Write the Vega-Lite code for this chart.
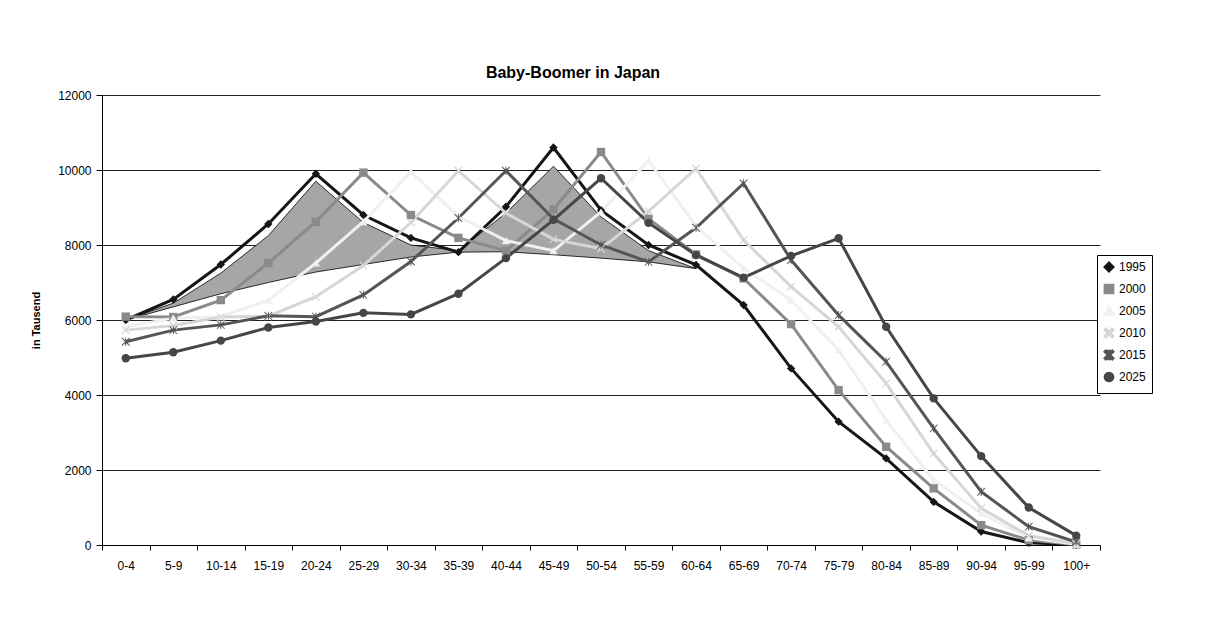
{
  "$schema": "https://vega.github.io/schema/vega-lite/v6.json",
  "width": 998,
  "height": 450,
  "autosize": {"type": "none"},
  "padding": {"left": 102, "top": 95, "right": 113, "bottom": 81},
  "background": "white",
  "title": {"text": "Baby-Boomer in Japan", "fontSize": 16, "font": "Liberation Sans", "fontWeight": "bold", "color": "#000", "offset": 8, "dx": -28},
  "config": {
    "view": {"stroke": null},
    "font": "Liberation Sans"
  },
  "datasets": {
    "pop": [
      {"age": "0-4", "year": "1995", "value": 6000}, {"age": "5-9", "year": "1995", "value": 6550}, {"age": "10-14", "year": "1995", "value": 7480}, {"age": "15-19", "year": "1995", "value": 8560}, {"age": "20-24", "year": "1995", "value": 9900}, {"age": "25-29", "year": "1995", "value": 8800}, {"age": "30-34", "year": "1995", "value": 8190}, {"age": "35-39", "year": "1995", "value": 7810}, {"age": "40-44", "year": "1995", "value": 9020}, {"age": "45-49", "year": "1995", "value": 10600}, {"age": "50-54", "year": "1995", "value": 8930}, {"age": "55-59", "year": "1995", "value": 8000}, {"age": "60-64", "year": "1995", "value": 7470}, {"age": "65-69", "year": "1995", "value": 6400}, {"age": "70-74", "year": "1995", "value": 4710}, {"age": "75-79", "year": "1995", "value": 3290}, {"age": "80-84", "year": "1995", "value": 2310}, {"age": "85-89", "year": "1995", "value": 1150}, {"age": "90-94", "year": "1995", "value": 360}, {"age": "95-99", "year": "1995", "value": 60}, {"age": "100+", "year": "1995", "value": 5},
      {"age": "0-4", "year": "2000", "value": 6090}, {"age": "5-9", "year": "2000", "value": 6080}, {"age": "10-14", "year": "2000", "value": 6530}, {"age": "15-19", "year": "2000", "value": 7520}, {"age": "20-24", "year": "2000", "value": 8620}, {"age": "25-29", "year": "2000", "value": 9930}, {"age": "30-34", "year": "2000", "value": 8800}, {"age": "35-39", "year": "2000", "value": 8190}, {"age": "40-44", "year": "2000", "value": 7850}, {"age": "45-49", "year": "2000", "value": 8950}, {"age": "50-54", "year": "2000", "value": 10480}, {"age": "55-59", "year": "2000", "value": 8700}, {"age": "60-64", "year": "2000", "value": 7750}, {"age": "65-69", "year": "2000", "value": 7110}, {"age": "70-74", "year": "2000", "value": 5890}, {"age": "75-79", "year": "2000", "value": 4130}, {"age": "80-84", "year": "2000", "value": 2620}, {"age": "85-89", "year": "2000", "value": 1510}, {"age": "90-94", "year": "2000", "value": 530}, {"age": "95-99", "year": "2000", "value": 130}, {"age": "100+", "year": "2000", "value": 15},
      {"age": "0-4", "year": "2005", "value": 5820}, {"age": "5-9", "year": "2005", "value": 6050}, {"age": "10-14", "year": "2005", "value": 6090}, {"age": "15-19", "year": "2005", "value": 6530}, {"age": "20-24", "year": "2005", "value": 7520}, {"age": "25-29", "year": "2005", "value": 8620}, {"age": "30-34", "year": "2005", "value": 9950}, {"age": "35-39", "year": "2005", "value": 8760}, {"age": "40-44", "year": "2005", "value": 8120}, {"age": "45-49", "year": "2005", "value": 7850}, {"age": "50-54", "year": "2005", "value": 8880}, {"age": "55-59", "year": "2005", "value": 10250}, {"age": "60-64", "year": "2005", "value": 8500}, {"age": "65-69", "year": "2005", "value": 7380}, {"age": "70-74", "year": "2005", "value": 6530}, {"age": "75-79", "year": "2005", "value": 5200}, {"age": "80-84", "year": "2005", "value": 3330}, {"age": "85-89", "year": "2005", "value": 1730}, {"age": "90-94", "year": "2005", "value": 850}, {"age": "95-99", "year": "2005", "value": 190}, {"age": "100+", "year": "2005", "value": 20},
      {"age": "0-4", "year": "2010", "value": 5730}, {"age": "5-9", "year": "2010", "value": 5850}, {"age": "10-14", "year": "2010", "value": 6080}, {"age": "15-19", "year": "2010", "value": 6100}, {"age": "20-24", "year": "2010", "value": 6620}, {"age": "25-29", "year": "2010", "value": 7450}, {"age": "30-34", "year": "2010", "value": 8600}, {"age": "35-39", "year": "2010", "value": 9980}, {"age": "40-44", "year": "2010", "value": 8850}, {"age": "45-49", "year": "2010", "value": 8150}, {"age": "50-54", "year": "2010", "value": 7900}, {"age": "55-59", "year": "2010", "value": 8900}, {"age": "60-64", "year": "2010", "value": 10040}, {"age": "65-69", "year": "2010", "value": 8130}, {"age": "70-74", "year": "2010", "value": 6890}, {"age": "75-79", "year": "2010", "value": 5820}, {"age": "80-84", "year": "2010", "value": 4310}, {"age": "85-89", "year": "2010", "value": 2440}, {"age": "90-94", "year": "2010", "value": 980}, {"age": "95-99", "year": "2010", "value": 250}, {"age": "100+", "year": "2010", "value": 40},
      {"age": "0-4", "year": "2015", "value": 5420}, {"age": "5-9", "year": "2015", "value": 5730}, {"age": "10-14", "year": "2015", "value": 5870}, {"age": "15-19", "year": "2015", "value": 6110}, {"age": "20-24", "year": "2015", "value": 6090}, {"age": "25-29", "year": "2015", "value": 6670}, {"age": "30-34", "year": "2015", "value": 7560}, {"age": "35-39", "year": "2015", "value": 8720}, {"age": "40-44", "year": "2015", "value": 9980}, {"age": "45-49", "year": "2015", "value": 8700}, {"age": "50-54", "year": "2015", "value": 8000}, {"age": "55-59", "year": "2015", "value": 7550}, {"age": "60-64", "year": "2015", "value": 8460}, {"age": "65-69", "year": "2015", "value": 9640}, {"age": "70-74", "year": "2015", "value": 7600}, {"age": "75-79", "year": "2015", "value": 6130}, {"age": "80-84", "year": "2015", "value": 4890}, {"age": "85-89", "year": "2015", "value": 3110}, {"age": "90-94", "year": "2015", "value": 1420}, {"age": "95-99", "year": "2015", "value": 490}, {"age": "100+", "year": "2015", "value": 80},
      {"age": "0-4", "year": "2025", "value": 4980}, {"age": "5-9", "year": "2025", "value": 5140}, {"age": "10-14", "year": "2025", "value": 5450}, {"age": "15-19", "year": "2025", "value": 5800}, {"age": "20-24", "year": "2025", "value": 5960}, {"age": "25-29", "year": "2025", "value": 6190}, {"age": "30-34", "year": "2025", "value": 6150}, {"age": "35-39", "year": "2025", "value": 6700}, {"age": "40-44", "year": "2025", "value": 7650}, {"age": "45-49", "year": "2025", "value": 8670}, {"age": "50-54", "year": "2025", "value": 9780}, {"age": "55-59", "year": "2025", "value": 8590}, {"age": "60-64", "year": "2025", "value": 7730}, {"age": "65-69", "year": "2025", "value": 7130}, {"age": "70-74", "year": "2025", "value": 7710}, {"age": "75-79", "year": "2025", "value": 8180}, {"age": "80-84", "year": "2025", "value": 5820}, {"age": "85-89", "year": "2025", "value": 3910}, {"age": "90-94", "year": "2025", "value": 2370}, {"age": "95-99", "year": "2025", "value": 1000}, {"age": "100+", "year": "2025", "value": 250}
    ],
    "shade": [
      {"age": "0-4", "upper": 6000, "lower": 6000},
      {"age": "5-9", "upper": 6450, "lower": 6350},
      {"age": "10-14", "upper": 7250, "lower": 6700},
      {"age": "15-19", "upper": 8250, "lower": 7000},
      {"age": "20-24", "upper": 9700, "lower": 7280},
      {"age": "25-29", "upper": 8600, "lower": 7480},
      {"age": "30-34", "upper": 8000, "lower": 7680},
      {"age": "35-39", "upper": 7850, "lower": 7810},
      {"age": "40-44", "upper": 8850, "lower": 7820},
      {"age": "45-49", "upper": 10100, "lower": 7740},
      {"age": "50-54", "upper": 8750, "lower": 7650},
      {"age": "55-59", "upper": 7850, "lower": 7550},
      {"age": "60-64", "upper": 7370, "lower": 7370}
    ]
  },
  "encoding": {
    "x": {
      "field": "age", "type": "ordinal", "sort": null,
      "scale": {"type": "band", "paddingInner": 0, "paddingOuter": 0, "domain": ["0-4","5-9","10-14","15-19","20-24","25-29","30-34","35-39","40-44","45-49","50-54","55-59","60-64","65-69","70-74","75-79","80-84","85-89","90-94","95-99","100+"]},
      "axis": {"title": null, "labelAngle": 0, "labelFontSize": 12, "labelColor": "#000", "labelFont": "Liberation Sans", "labelPadding": 10, "tickBand": "extent", "tickColor": "#000", "tickSize": 5, "domainColor": "#000", "grid": false}
    }
  },
  "layer": [
    {
      "data": {"name": "shade"},
      "mark": {"type": "area", "fill": "#a6a6a6", "fillOpacity": 1, "stroke": "#000", "strokeWidth": 0.8},
      "encoding": {
        "y": {
          "field": "upper", "type": "quantitative",
          "scale": {"domain": [0, 12000], "nice": false},
          "axis": {"title": "in Tausend", "titleFontSize": 11, "titleFontWeight": "bold", "titleColor": "#000", "titlePadding": 16, "values": [0, 2000, 4000, 6000, 8000, 10000, 12000], "format": "d", "labelFontSize": 12, "labelColor": "#000", "labelPadding": 5, "tickColor": "#000", "tickSize": 6, "domainColor": "#000", "grid": true, "gridColor": "#222", "gridWidth": 1}
        },
        "y2": {"field": "lower"}
      }
    },
    {
      "data": {"name": "pop"},
      "encoding": {
        "y": {"field": "value", "type": "quantitative"},
        "color": {
          "field": "year", "type": "nominal",
          "scale": {"domain": ["1995","2000","2005","2010","2015","2025"], "range": ["#151515","#8a8a8a","#f0f0f0","#d6d6d6","#555555","#464646"]},
          "legend": {"title": null, "orient": "none", "legendX": 995, "legendY": 160, "strokeColor": "#000", "fillColor": "#fff", "padding": 6, "labelFontSize": 12, "labelColor": "#000", "rowPadding": 2, "symbolSize": 60, "symbolStrokeWidth": 3}
        },
        "shape": {
          "field": "year", "type": "nominal",
          "scale": {"domain": ["1995","2000","2005","2010","2015","2025"], "range": ["diamond","square","triangle-up","M-1,-0.8L-0.8,-1L0,-0.2L0.8,-1L1,-0.8L0.2,0L1,0.8L0.8,1L0,0.2L-0.8,1L-1,0.8L-0.2,0Z","M-1,-0.85L-0.85,-1L0,-0.15L0.85,-1L1,-0.85L0.15,0L1,0.85L0.85,1L0,0.15L-0.85,1L-1,0.85L-0.15,0ZM-0.1,-1L0.1,-1L0.1,1L-0.1,1Z","circle"]},
          "legend": {"title": null}
        }
      },
      "layer": [
        {"mark": {"type": "line", "strokeWidth": 3}},
        {"mark": {"type": "point", "filled": true, "opacity": 1, "size": 70}}
      ]
    }
  ]
}
